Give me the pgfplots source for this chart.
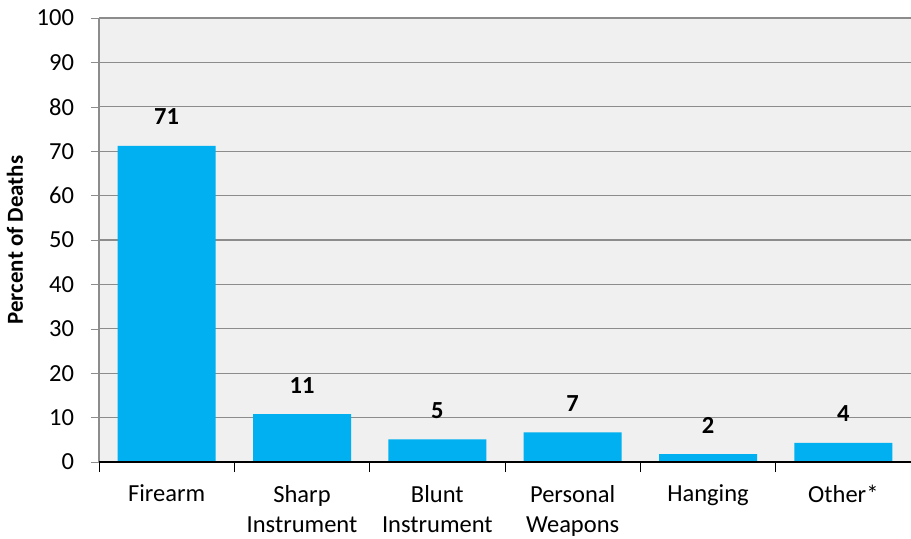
\documentclass[border=0pt]{standalone}
\usepackage{pgfplots}
\pgfplotsset{compat=1.18}
\usepackage{pgfplotstable}
\usepackage{fontspec}
\setmainfont{Carlito}
\definecolor{barblue}{HTML}{00B0F0}
\definecolor{plotbg}{HTML}{F0F0F0}
\definecolor{gridgray}{HTML}{8C8C8C}
\pgfplotstableread{
x y lbl
0 71.2 71
1 10.8 11
2 5.1 5
3 6.7 7
4 1.8 2
5 4.3 4
}\datatable
\begin{document}
\begin{tikzpicture}
\begin{axis}[
  scale only axis,
  width=406bp, height=222bp,
  xmin=-0.5, xmax=5.5,
  ymin=0, ymax=100,
  ytick={0,10,...,100},
  xtick={0,1,2,3,4,5},
  xtick pos=left, ytick pos=left,
  xticklabels={Firearm,{Sharp\\Instrument},{Blunt\\Instrument},{Personal\\Weapons},Hanging,Other*},
  x tick label style={align=center, font=\fontsize{12.3}{15.5}\selectfont, yshift=-4bp},
  y tick label style={font=\fontsize{12.3}{14}\selectfont, xshift=-5bp},
  major x tick style={draw=none},
  minor xtick={-0.5,0.5,...,4.5},
  minor x tick style={black, thin},
  minor tick length=5bp,
  major tick length=4bp,
  tick align=outside,
  y tick style={gridgray},
  ymajorgrids,
  grid style={gridgray, line width=0.6pt},
  axis line style={draw=none},
  axis background/.style={fill=plotbg},
  ylabel={\bfseries Percent of Deaths},
  ylabel style={font=\fontsize{11.5}{13}\selectfont, yshift=0bp},
  /pgf/number format/assume math mode=true,
  clip=false,
]
\coordinate (ll) at (rel axis cs:0,0);
\coordinate (ur) at (rel axis cs:1,1);
\draw[gridgray, line width=0.8pt] (axis cs:-0.5,0) -- (axis cs:-0.5,100);
\addplot[ybar, bar width=49bp, fill=barblue, draw=none,
  point meta=explicit symbolic,
  nodes near coords,
  every node near coord/.append style={font=\fontsize{12.3}{14}\bfseries, anchor=center, yshift=14.5bp, black}]
  table[x=x, y=y, meta=lbl] {\datatable};
\draw[black, line width=0.8pt] (axis cs:-0.5,0) -- (axis cs:5.5,0);
\end{axis}
\pgfresetboundingbox
\path ([shift={(-49.5bp,-38.5bp)}]ll) rectangle ([shift={(0bp,9bp)}]ur);
\end{tikzpicture}
\end{document}
